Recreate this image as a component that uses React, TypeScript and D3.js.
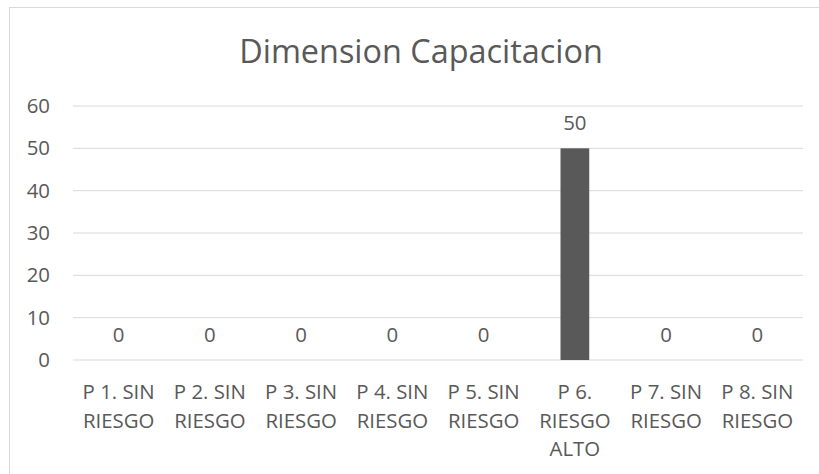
import React from "react";
import * as d3 from "d3";

const categories: string[][] = [
  ["P 1. SIN", "RIESGO"],
  ["P 2. SIN", "RIESGO"],
  ["P 3. SIN", "RIESGO"],
  ["P 4. SIN", "RIESGO"],
  ["P 5. SIN", "RIESGO"],
  ["P 6.", "RIESGO", "ALTO"],
  ["P 7. SIN", "RIESGO"],
  ["P 8. SIN", "RIESGO"],
];
const values: number[] = [0, 0, 0, 0, 0, 50, 0, 0];
const yTicks: number[] = [0, 10, 20, 30, 40, 50, 60];
const title = "Dimension Capacitacion";

const W = 819;
const H = 474;
const plotLeft = 73;
const plotRight = 803;
const plotTop = 106;
const plotBottom = 360;
const textColor = "#595959";
const font = "'Open Sans', sans-serif";

export default function App() {
  const x = d3
    .scaleBand<number>()
    .domain(d3.range(categories.length))
    .range([plotLeft, plotRight])
    .paddingInner(0.685)
    .paddingOuter(0.3425);
  const band = d3.scaleBand<number>().domain(d3.range(categories.length)).range([plotLeft, plotRight]);
  const y = d3.scaleLinear().domain([0, 60]).range([plotBottom, plotTop]);

  return (
    <svg
      width={W}
      height={H}
      style={{ position: "absolute", left: 0, top: 0, background: "#fff" }}
      fontFamily={font}
    >
      <rect x={9.5} y={7.5} width={W + 20} height={H + 20} fill="#fff" stroke="#d9d9d9" strokeWidth={1} />
      <text x={421} y={63} textAnchor="middle" fontSize={32.4} fill={textColor}>
        {title}
      </text>
      {yTicks.map((t) => (
        <g key={t}>
          <line x1={plotLeft} x2={plotRight} y1={y(t)} y2={y(t)} stroke="#d9d9d9" strokeWidth={1} />
          <text x={50} y={y(t)} dy="0.35em" textAnchor="end" fontSize={20.4} fill={textColor}>
            {t}
          </text>
        </g>
      ))}
      {values.map((v, i) => (
        <g key={i}>
          {v > 0 && (
            <rect x={x(i)} y={y(v)} width={x.bandwidth()} height={y(0) - y(v)} fill="#595959" />
          )}
          <text
            x={(band(i) as number) + band.bandwidth() / 2}
            y={y(v) - 18}
            textAnchor="middle"
            fontSize={20.4}
            fill={textColor}
          >
            {v}
          </text>
          {categories[i].map((line, j) => (
            <text
              key={j}
              x={(band(i) as number) + band.bandwidth() / 2}
              y={399 + j * 28.5}
              textAnchor="middle"
              fontSize={20.4}
              fill={textColor}
            >
              {line}
            </text>
          ))}
        </g>
      ))}
    </svg>
  );
}
